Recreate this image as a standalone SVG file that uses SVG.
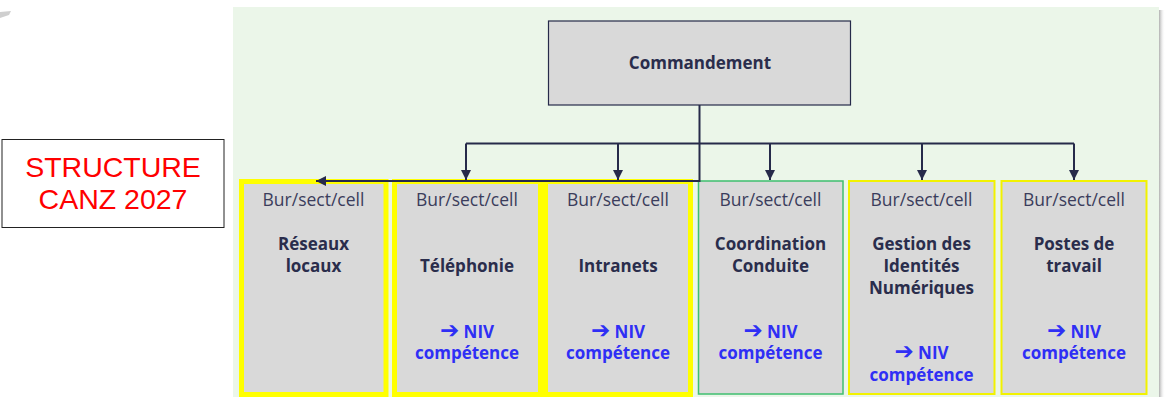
<svg xmlns="http://www.w3.org/2000/svg" width="1172" height="397" viewBox="0 0 1172 397">
  <defs>
    <marker id="ah" viewBox="0 0 10 10" refX="10" refY="5" markerWidth="10" markerHeight="10" markerUnits="userSpaceOnUse" orient="auto">
      <path d="M0,0 L10,5 L0,10 z" fill="#262a4a"/>
    </marker>
    <linearGradient id="shadow" x1="0" y1="0" x2="1" y2="0">
      <stop offset="0" stop-color="#9a9a9a" stop-opacity="0.8"/>
      <stop offset="1" stop-color="#ffffff" stop-opacity="0"/>
    </linearGradient>
    <style>
      .box { fill: #d9d9d9; }
      .yb { stroke: #ffff00; stroke-width: 5; }
      .yt { stroke: #f2f200; stroke-width: 2; }
      .gb { stroke: #3fbf6f; stroke-width: 1.5; }
      .sub { font-family: "Open Sans", "Noto Sans", sans-serif; font-size: 17.5px; fill: #3b3d5c; text-anchor: middle; }
      .ttl { font-family: "Open Sans", "Noto Sans", sans-serif; font-size: 17px; font-weight: bold; fill: #2a2d4c; text-anchor: middle; }
      .niv { font-family: "Open Sans", "DejaVu Sans", sans-serif; font-size: 17px; font-weight: bold; fill: #2f2ff5; text-anchor: middle; }
      .arr { font-family: "DejaVu Sans", sans-serif; font-size: 23px; font-weight: bold; }
      .conn { stroke: #262a4a; stroke-width: 2; fill: none; }
    </style>
  </defs>

  <rect x="0" y="0" width="1172" height="397" fill="#ffffff"/>
  <path d="M0,12 L11,11 L9,15 L0,18 z" fill="#cfcfcf"/>

  <!-- background panel -->
  <rect x="1159" y="10" width="6" height="387" fill="url(#shadow)"/>
  <rect x="233" y="7" width="926" height="390" fill="#ebf6e9"/>

  <!-- title box -->
  <g id="title">
    <rect x="2" y="139.5" width="222" height="88" fill="#ffffff" stroke="#222" stroke-width="1"/>
    <text x="113" y="177" font-family="Liberation Sans, Arial, sans-serif" font-size="28.5" fill="#ff0000" text-anchor="middle">STRUCTURE</text>
    <text x="113" y="209" font-family="Liberation Sans, Arial, sans-serif" font-size="28.5" fill="#ff0000" text-anchor="middle">CANZ 2027</text>
  </g>

  <g id="commandement">
    <rect x="548.5" y="21" width="302" height="84" class="box" stroke="#262a4a" stroke-width="1.2"/>
    <text x="700" y="69" class="ttl">Commandement</text>
  </g>

  <g id="reseaux">
    <rect x="241.5" y="181.5" width="144.5" height="213" class="box yb"/>
    <text x="313.5" y="206" class="sub">Bur/sect/cell</text>
    <text x="313.5" y="250" class="ttl">Réseaux</text>
    <text x="313.5" y="272" class="ttl">locaux</text>
  </g>

  <g id="telephonie">
    <rect x="394.5" y="181.5" width="146" height="213" class="box yb"/>
    <text x="467" y="206" class="sub">Bur/sect/cell</text>
    <text x="467" y="272" class="ttl">Téléphonie</text>
    <text x="467" y="338" class="niv"><tspan class="arr">➔</tspan> NIV</text>
    <text x="467" y="359" class="niv">compétence</text>
  </g>

  <g id="intranets">
    <rect x="545.5" y="181.5" width="145" height="213" class="box yb"/>
    <text x="618" y="206" class="sub">Bur/sect/cell</text>
    <text x="618" y="272" class="ttl">Intranets</text>
    <text x="618" y="338" class="niv"><tspan class="arr">➔</tspan> NIV</text>
    <text x="618" y="359" class="niv">compétence</text>
  </g>

  <g id="coordination">
    <rect x="698.5" y="181" width="144.5" height="213" class="box gb"/>
    <text x="770.5" y="206" class="sub">Bur/sect/cell</text>
    <text x="770.5" y="250" class="ttl">Coordination</text>
    <text x="770.5" y="272" class="ttl">Conduite</text>
    <text x="770.5" y="338" class="niv"><tspan class="arr">➔</tspan> NIV</text>
    <text x="770.5" y="359" class="niv">compétence</text>
  </g>

  <g id="gestion">
    <rect x="849" y="181" width="145.5" height="213" class="box yt"/>
    <text x="921.5" y="206" class="sub">Bur/sect/cell</text>
    <text x="921.5" y="250" class="ttl">Gestion des</text>
    <text x="921.5" y="272" class="ttl">Identités</text>
    <text x="921.5" y="294" class="ttl">Numériques</text>
    <text x="921.5" y="359" class="niv"><tspan class="arr">➔</tspan> NIV</text>
    <text x="921.5" y="381" class="niv">compétence</text>
  </g>

  <g id="postes">
    <rect x="1001.5" y="181" width="145" height="213" class="box yt"/>
    <text x="1074" y="206" class="sub">Bur/sect/cell</text>
    <text x="1074" y="250" class="ttl">Postes de</text>
    <text x="1074" y="272" class="ttl">travail</text>
    <text x="1074" y="338" class="niv"><tspan class="arr">➔</tspan> NIV</text>
    <text x="1074" y="359" class="niv">compétence</text>
  </g>

  <g id="connectors">
    <path class="conn" d="M699.5,105 V181 H316" marker-end="url(#ah)"/>
    <path class="conn" d="M466,143.5 H1074"/>
    <path class="conn" d="M466,143.5 V180" marker-end="url(#ah)"/>
    <path class="conn" d="M618,143.5 V180" marker-end="url(#ah)"/>
    <path class="conn" d="M770,143.5 V180" marker-end="url(#ah)"/>
    <path class="conn" d="M922,143.5 V180" marker-end="url(#ah)"/>
    <path class="conn" d="M1074,143.5 V180" marker-end="url(#ah)"/>
  </g>
</svg>
